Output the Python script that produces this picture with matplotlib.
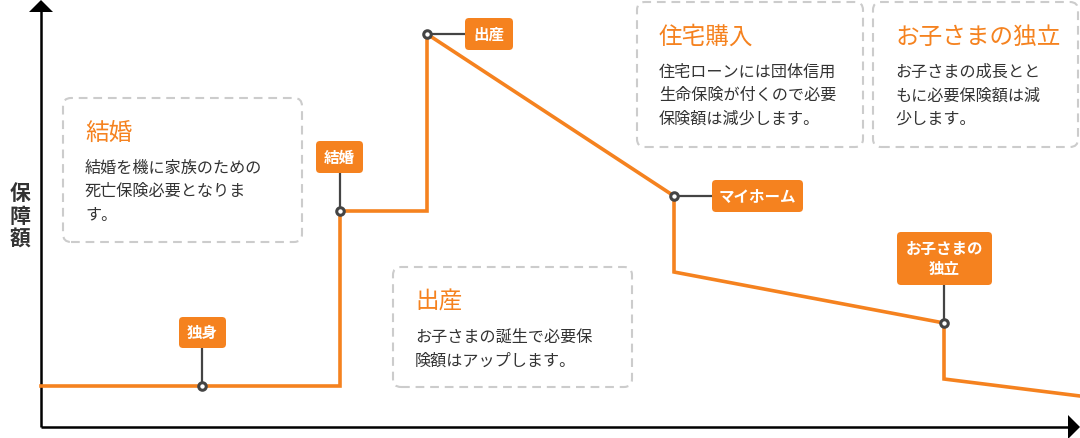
import matplotlib
matplotlib.use("Agg")
import matplotlib.pyplot as plt
from matplotlib.patches import FancyBboxPatch, Polygon

plt.rcParams['font.family'] = ['Noto Sans CJK JP', 'DejaVu Sans']

# ---------------- data (chart units: x = time, y = coverage) ----------------
line_x = [0, 161, 299, 299, 386, 386, 633, 633, 903, 903, 1039]
line_y = [41, 41, 41, 216, 216, 393, 231, 155, 104, 48, 31]

event_x = [161, 299, 386, 633, 903]
event_y = [41, 216, 393, 231, 104]
event_labels = ["独身", "結婚", "出産", "マイホーム", "お子さまの\n独立"]

note_titles = ["結婚", "出産", "住宅購入", "お子さまの独立"]
note_bodies = [
    ["結婚を機に家族のための", "死亡保険必要となりま", "す。"],
    ["お子さまの誕生で必要保", "険額はアップします。"],
    ["住宅ローンには団体信用", "生命保険が付くので必要", "保険額は減少します。"],
    ["お子さまの成長とと", "もに必要保険額は減", "少します。"],
]
y_label = "保障額"

ORANGE = "#F5821F"
DARK = "#444444"
TEXT = "#333333"

W, H = 1080, 438
OX, OY = 41, 427  # pixel position of the origin


def X(px):
    return px - OX


def Y(py):
    return OY - py


fig = plt.figure(figsize=(W / 100, H / 100), dpi=100)
ax = fig.add_axes([0, 0, 1, 1])
ax.set_xlim(X(0), X(W))
ax.set_ylim(Y(H), Y(0))
ax.axis("off")

# ---------------- axes with arrows ----------------
ax.plot([X(41), X(41)], [Y(427), Y(10)], color="black", lw=1.8, solid_capstyle="butt", zorder=2)
ax.plot([X(41), X(1070)], [Y(427), Y(427)], color="black", lw=1.8, solid_capstyle="butt", zorder=2)
ax.add_patch(Polygon([[X(29), Y(12)], [X(53), Y(12)], [X(41), Y(0)]], closed=True,
                     facecolor="black", edgecolor="none", zorder=2))
ax.add_patch(Polygon([[X(1068), Y(415)], [X(1068), Y(439)], [X(1080), Y(427)]], closed=True,
                     facecolor="black", edgecolor="none", zorder=2))

# y label (vertical stacked characters)
for i, ch in enumerate(y_label):
    ax.text(X(20), Y(194 + i * 22.5), ch, fontsize=15, fontweight="bold", color=TEXT,
            ha="center", va="center", zorder=3)

# ---------------- dashed note boxes ----------------
note_boxes = [(63, 98, 302, 242), (393, 267, 632, 387), (637, 2, 863, 147), (873, 2, 1078, 147)]
for (x0, y0, x1, y1), title, body in zip(note_boxes, note_titles, note_bodies):
    ax.add_patch(FancyBboxPatch((X(x0), Y(y1)), x1 - x0, y1 - y0,
                                boxstyle="round,pad=0,rounding_size=8",
                                facecolor="white", edgecolor="#cccccc", lw=1.5,
                                linestyle=(0, (4.2, 2.8)), zorder=1))
    ax.text(X(x0 + 22), Y(y0 + 35), title, fontsize=17, color=ORANGE,
            ha="left", va="center", zorder=3)
    for j, line in enumerate(body):
        ax.text(X(x0 + 22), Y(y0 + 70.5 + j * 23.3), line, fontsize=11.6, color=TEXT,
                ha="left", va="center", zorder=3)

# ---------------- main line ----------------
ax.plot(line_x, line_y, color=ORANGE, lw=2.6, solid_joinstyle="miter", zorder=4)

# ---------------- event labels ----------------
label_boxes = [(179, 317, 226, 348), (316, 141, 363, 173), (465, 18, 513, 50),
               (712, 180, 803, 212), (897, 232, 992, 285)]
for (ex, ey), lab, (x0, y0, x1, y1) in zip(zip(event_x, event_y), event_labels, label_boxes):
    cx, cy = (x0 + x1) / 2, (y0 + y1) / 2
    # stem
    if y1 < OY - ey - 5 and x0 < ex + OX < x1:
        ax.plot([ex, ex], [ey, Y(y1)], color=DARK, lw=1.6, zorder=5)
    else:
        ax.plot([ex, X(x0)], [ey, ey], color=DARK, lw=1.6, zorder=5)
    ax.add_patch(FancyBboxPatch((X(x0), Y(y1)), x1 - x0, y1 - y0,
                                boxstyle="round,pad=0,rounding_size=4",
                                facecolor=ORANGE, edgecolor="none", zorder=6))
    ax.text(X(cx), Y(cy + 0.5), lab, fontsize=11.2, color="white", fontweight="bold",
            ha="center", va="center", linespacing=1.3, zorder=7)

ax.plot(event_x, event_y, linestyle="none", marker="o", ms=5.4, mew=2.2,
        mec=DARK, mfc="white", zorder=8)

fig.savefig("out.png", dpi=100)
